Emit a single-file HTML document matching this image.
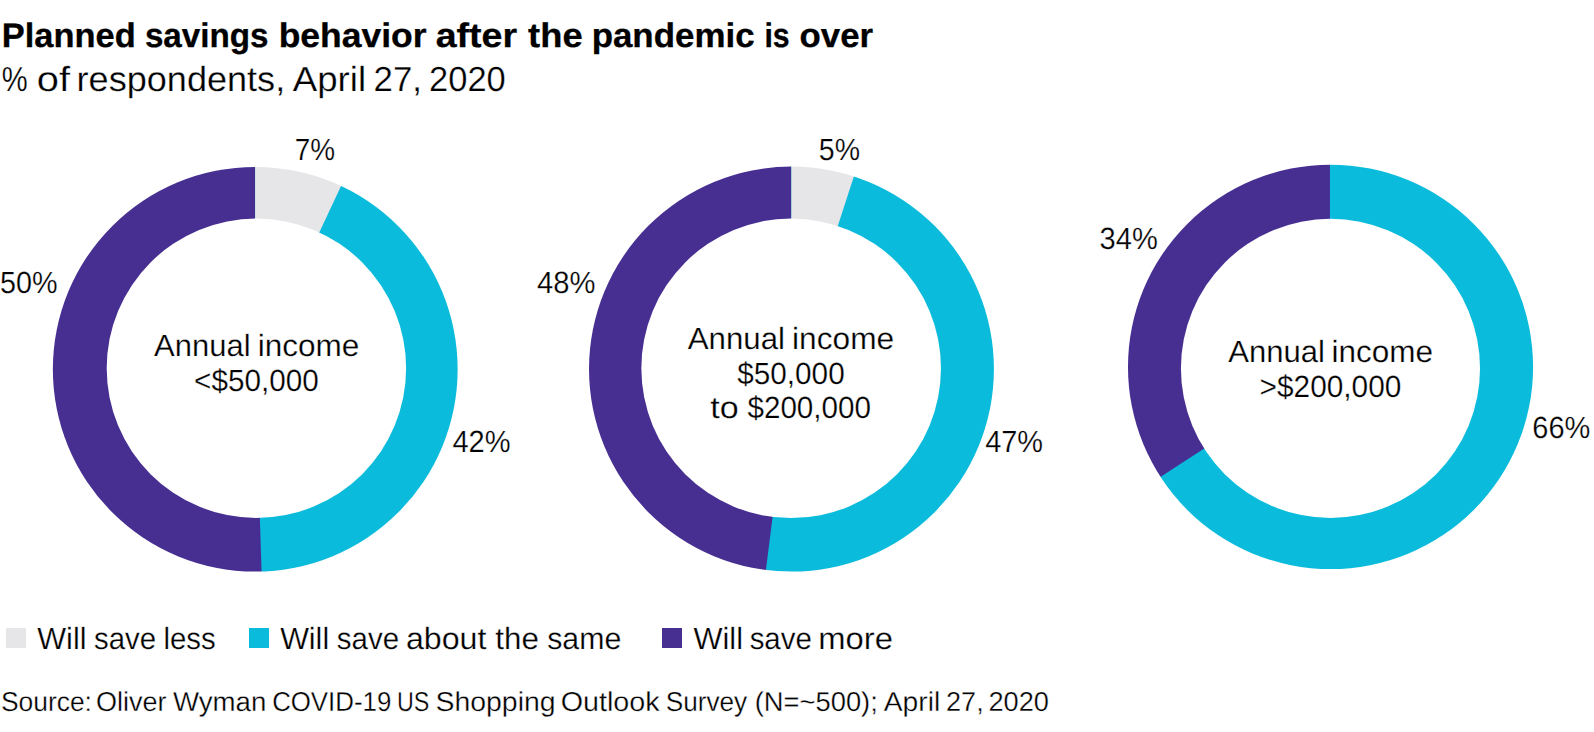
<!DOCTYPE html>
<html><head><meta charset="utf-8"><title>Planned savings behavior</title>
<style>
html,body{margin:0;padding:0;background:#fff;}
body{width:1594px;height:732px;overflow:hidden;}
svg{display:block;font-family:"Liberation Sans",sans-serif;fill:#000;}
</style></head><body>
<svg width="1594" height="732" viewBox="0 0 1594 732" text-rendering="geometricPrecision">
<mask id="ring1" maskUnits="userSpaceOnUse" x="49" y="163" width="413" height="413"><ellipse cx="255.25" cy="369.25" rx="202.4" ry="202.35" fill="#fff"/><circle cx="256.4" cy="368.3" r="149.7" fill="#000"/></mask>
<g mask="url(#ring1)">
<ellipse cx="255.25" cy="369.25" rx="204.4" ry="204.35" fill="#472f92"/>
<path d="M255.10 369.25L255.10 -50.75L414.27 -19.42L549.70 69.90L641.17 203.87L675.05 362.52L646.27 522.17L559.14 659.01L426.64 752.62L268.56 789.03Z" fill="#0bbbdb"/>
<path d="M255.10 369.25L255.10 -50.75L346.46 -40.69L433.45 -11.00Z" fill="#e6e6e8"/>
</g>
<mask id="ring2" maskUnits="userSpaceOnUse" x="585" y="163" width="413" height="413"><ellipse cx="791.47" cy="369.05" rx="202.45" ry="202.5" fill="#fff"/><circle cx="791.15" cy="368.3" r="149.8" fill="#000"/></mask>
<g mask="url(#ring2)">
<ellipse cx="791.47" cy="369.05" rx="204.45" ry="204.5" fill="#472f92"/>
<path d="M791.30 369.05L791.30 -50.95L940.44 -23.58L1070.15 54.97L1163.51 174.47L1208.35 319.32L1198.82 470.66L1136.18 608.75L1028.59 715.60L890.06 777.27L738.66 785.74Z" fill="#0bbbdb"/>
<path d="M791.30 369.05L791.30 -50.95L921.09 -30.39Z" fill="#e6e6e8"/>
</g>
<mask id="ring3" maskUnits="userSpaceOnUse" x="1124" y="161" width="413" height="412"><ellipse cx="1330.53" cy="366.9" rx="202.55" ry="202.2" fill="#fff"/><circle cx="1330.48" cy="368.42" r="149.55" fill="#000"/></mask>
<g mask="url(#ring3)">
<ellipse cx="1330.53" cy="366.9" rx="204.55" ry="204.2" fill="#472f92"/>
<path d="M1329.95 367.00L1329.95 -53.00L1484.21 -23.65L1616.90 60.31L1709.49 187.13L1749.02 339.10L1729.98 494.96L1655.03 632.94L1534.64 733.75L1385.64 783.29L1228.85 774.65L1086.20 709.03L977.61 595.60Z" fill="#0bbbdb"/>
</g>
<rect x="6" y="628" width="20" height="20" fill="#e6e6e8"/><rect x="249" y="628" width="20" height="20" fill="#0bbbdb"/><rect x="662" y="628" width="20" height="20" fill="#472f92"/>
<text id="title" y="46.85" font-size="34.0" font-weight="700" stroke="#000" stroke-width="0.3"><tspan x="1.80" textLength="133.92" lengthAdjust="spacingAndGlyphs">Planned</tspan> <tspan x="144.88" textLength="123.63" lengthAdjust="spacingAndGlyphs">savings</tspan> <tspan x="278.71" textLength="147.88" lengthAdjust="spacingAndGlyphs">behavior</tspan> <tspan x="435.65" textLength="81.37" lengthAdjust="spacingAndGlyphs">after</tspan> <tspan x="528.11" textLength="54.48" lengthAdjust="spacingAndGlyphs">the</tspan> <tspan x="591.65" textLength="162.92" lengthAdjust="spacingAndGlyphs">pandemic</tspan> <tspan x="764.44" textLength="25.26" lengthAdjust="spacingAndGlyphs">is</tspan> <tspan x="799.59" textLength="73.49" lengthAdjust="spacingAndGlyphs">over</tspan></text>
<text id="sub" y="90.95" font-size="34.75" stroke="#fff" stroke-width="0.25"><tspan x="1.64" textLength="25.93" lengthAdjust="spacingAndGlyphs">%</tspan> <tspan x="36.80" textLength="33.27" lengthAdjust="spacingAndGlyphs">of</tspan> <tspan x="76.58" textLength="208.59" lengthAdjust="spacingAndGlyphs">respondents,</tspan> <tspan x="292.80" textLength="73.27" lengthAdjust="spacingAndGlyphs">April</tspan> <tspan x="373.52" textLength="48.43" lengthAdjust="spacingAndGlyphs">27,</tspan> <tspan x="429.04" textLength="76.73" lengthAdjust="spacingAndGlyphs">2020</tspan></text>
<text id="p7" y="159.8" font-size="30.65" stroke="#fff" stroke-width="0.25"><tspan x="294.84" textLength="40.38" lengthAdjust="spacingAndGlyphs">7%</tspan></text>
<text id="p50" y="292.7" font-size="30.65" stroke="#fff" stroke-width="0.25"><tspan x="0.12" textLength="57.53" lengthAdjust="spacingAndGlyphs">50%</tspan></text>
<text id="p42" y="451.8" font-size="30.65" stroke="#fff" stroke-width="0.25"><tspan x="452.41" textLength="58.15" lengthAdjust="spacingAndGlyphs">42%</tspan></text>
<text id="p5" y="159.85" font-size="30.65" stroke="#fff" stroke-width="0.25"><tspan x="818.83" textLength="41.21" lengthAdjust="spacingAndGlyphs">5%</tspan></text>
<text id="p48" y="292.77" font-size="30.65" stroke="#fff" stroke-width="0.25"><tspan x="536.90" textLength="58.46" lengthAdjust="spacingAndGlyphs">48%</tspan></text>
<text id="p47" y="451.8" font-size="30.65" stroke="#fff" stroke-width="0.25"><tspan x="985.21" textLength="57.84" lengthAdjust="spacingAndGlyphs">47%</tspan></text>
<text id="p34" y="248.75" font-size="30.65" stroke="#fff" stroke-width="0.25"><tspan x="1099.57" textLength="58.19" lengthAdjust="spacingAndGlyphs">34%</tspan></text>
<text id="p66" y="437.65" font-size="30.65" stroke="#fff" stroke-width="0.25"><tspan x="1532.30" textLength="58.06" lengthAdjust="spacingAndGlyphs">66%</tspan></text>
<text id="c11" y="355.95" font-size="30.65" stroke="#fff" stroke-width="0.25"><tspan x="154.11" textLength="96.48" lengthAdjust="spacingAndGlyphs">Annual</tspan> <tspan x="257.76" textLength="101.66" lengthAdjust="spacingAndGlyphs">income</tspan></text>
<text id="c12" y="390.75" font-size="30.65" stroke="#fff" stroke-width="0.25"><tspan x="194.11" textLength="124.57" lengthAdjust="spacingAndGlyphs">&lt;$50,000</tspan></text>
<text id="c21" y="348.85" font-size="30.65" stroke="#fff" stroke-width="0.25"><tspan x="687.81" textLength="97.20" lengthAdjust="spacingAndGlyphs">Annual</tspan> <tspan x="792.06" textLength="102.08" lengthAdjust="spacingAndGlyphs">income</tspan></text>
<text id="c22" y="383.6" font-size="30.65" stroke="#fff" stroke-width="0.25"><tspan x="737.26" textLength="107.43" lengthAdjust="spacingAndGlyphs">$50,000</tspan></text>
<text id="c23" y="418.4" font-size="30.65" stroke="#fff" stroke-width="0.25"><tspan x="710.36" textLength="28.40" lengthAdjust="spacingAndGlyphs">to</tspan> <tspan x="747.46" textLength="123.53" lengthAdjust="spacingAndGlyphs">$200,000</tspan></text>
<text id="c31" y="361.85" font-size="30.65" stroke="#fff" stroke-width="0.25"><tspan x="1228.21" textLength="96.59" lengthAdjust="spacingAndGlyphs">Annual</tspan> <tspan x="1331.57" textLength="101.56" lengthAdjust="spacingAndGlyphs">income</tspan></text>
<text id="c32" y="396.75" font-size="30.65" stroke="#fff" stroke-width="0.25"><tspan x="1259.61" textLength="141.68" lengthAdjust="spacingAndGlyphs">&gt;$200,000</tspan></text>
<text id="l1" y="648.77" font-size="30.65" stroke="#fff" stroke-width="0.25"><tspan x="37.34" textLength="49.13" lengthAdjust="spacingAndGlyphs">Will</tspan> <tspan x="94.06" textLength="62.07" lengthAdjust="spacingAndGlyphs">save</tspan> <tspan x="163.49" textLength="52.29" lengthAdjust="spacingAndGlyphs">less</tspan></text>
<text id="l2" y="648.77" font-size="30.65" stroke="#fff" stroke-width="0.25"><tspan x="280.14" textLength="49.02" lengthAdjust="spacingAndGlyphs">Will</tspan> <tspan x="336.86" textLength="62.18" lengthAdjust="spacingAndGlyphs">save</tspan> <tspan x="405.91" textLength="80.55" lengthAdjust="spacingAndGlyphs">about</tspan> <tspan x="495.30" textLength="43.51" lengthAdjust="spacingAndGlyphs">the</tspan> <tspan x="547.23" textLength="74.04" lengthAdjust="spacingAndGlyphs">same</tspan></text>
<text id="l3" y="648.77" font-size="30.65" stroke="#fff" stroke-width="0.25"><tspan x="693.44" textLength="49.54" lengthAdjust="spacingAndGlyphs">Will</tspan> <tspan x="749.66" textLength="62.18" lengthAdjust="spacingAndGlyphs">save</tspan> <tspan x="818.30" textLength="74.68" lengthAdjust="spacingAndGlyphs">more</tspan></text>
<text id="src" y="710.8" font-size="27.4" stroke="#fff" stroke-width="0.3"><tspan x="0.95" textLength="91.01" lengthAdjust="spacingAndGlyphs">Source:</tspan> <tspan x="96.07" textLength="70.53" lengthAdjust="spacingAndGlyphs">Oliver</tspan> <tspan x="172.93" textLength="93.42" lengthAdjust="spacingAndGlyphs">Wyman</tspan> <tspan x="272.14" textLength="119.14" lengthAdjust="spacingAndGlyphs">COVID-19</tspan> <tspan x="396.95" textLength="32.37" lengthAdjust="spacingAndGlyphs">US</tspan> <tspan x="435.46" textLength="120.12" lengthAdjust="spacingAndGlyphs">Shopping</tspan> <tspan x="560.69" textLength="98.92" lengthAdjust="spacingAndGlyphs">Outlook</tspan> <tspan x="665.66" textLength="81.54" lengthAdjust="spacingAndGlyphs">Survey</tspan> <tspan x="754.75" textLength="123.05" lengthAdjust="spacingAndGlyphs">(N=~500);</tspan> <tspan x="883.79" textLength="56.44" lengthAdjust="spacingAndGlyphs">April</tspan> <tspan x="946.09" textLength="37.59" lengthAdjust="spacingAndGlyphs">27,</tspan> <tspan x="988.48" textLength="60.53" lengthAdjust="spacingAndGlyphs">2020</tspan></text>
</svg>
</body></html>
